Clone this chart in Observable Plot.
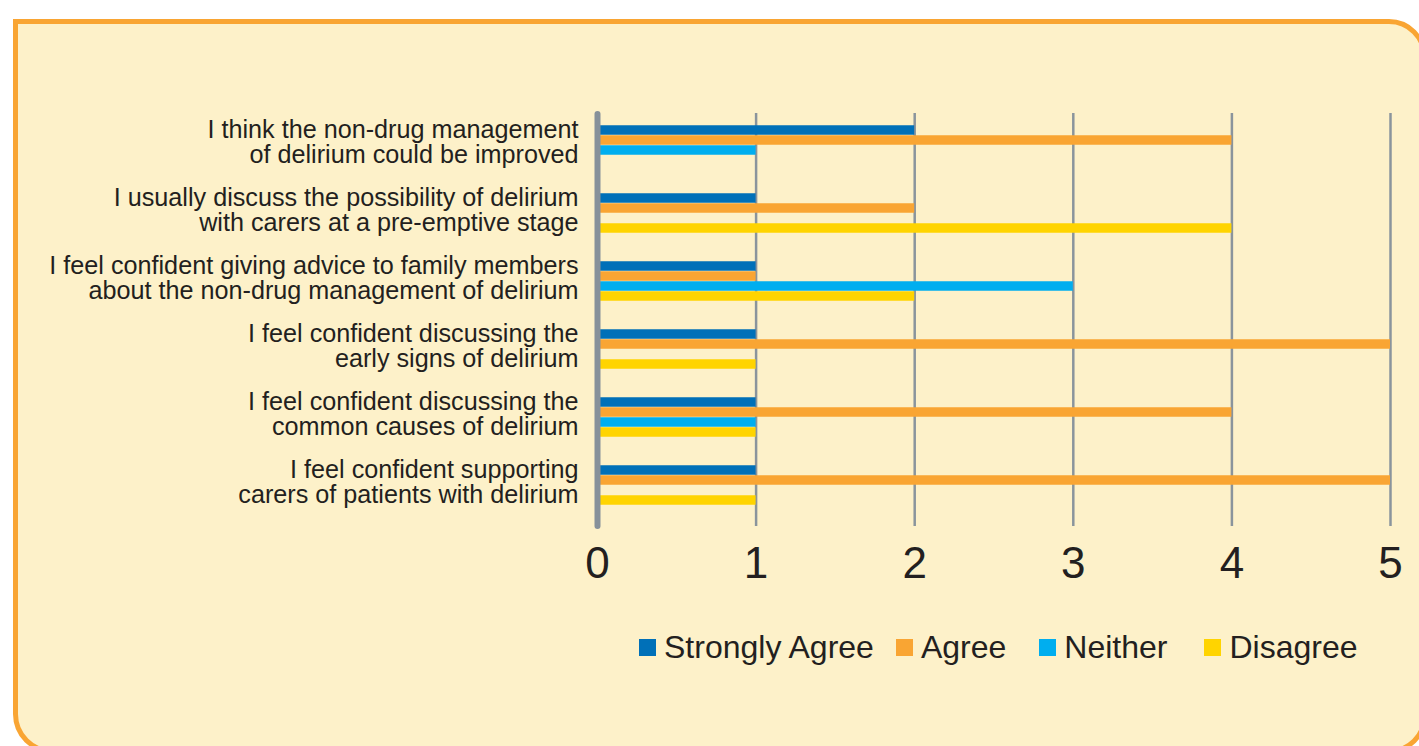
<!DOCTYPE html>
<html>
<head>
<meta charset="utf-8">
<script src="https://cdn.jsdelivr.net/npm/d3@7"></script>
<script src="https://cdn.jsdelivr.net/npm/@observablehq/plot@0.6"></script>
<style>
  html, body { margin: 0; padding: 0; background: #ffffff; width: 1419px; height: 746px; overflow: hidden; }
  #box { position: absolute; left: 13px; top: 19px; width: 1414px; height: 735px; box-sizing: border-box;
         background: #fdf1c9; border: 5px solid #f9a533; border-radius: 0 38px 38px 40px; }
  #chart { position: absolute; left: 0; top: 0; }
  #legend { position: absolute; left: 639px; top: 630px; display: flex; align-items: center;
            font-family: "Liberation Sans", Arial, sans-serif; font-size: 32px; color: #231f20; line-height: 34px; }
  .item { display: flex; align-items: center; }
  .sw { width: 17px; height: 17px; margin-right: 8px; }
</style>
</head>
<body>
<div id="box"></div>
<div id="chart"></div>
<div id="legend"></div>
<script>
const categories = [
  "I think the non-drug management\nof delirium could be improved",
  "I usually discuss the possibility of delirium\nwith carers at a pre-emptive stage",
  "I feel confident giving advice to family members\nabout the non-drug management of delirium",
  "I feel confident discussing the\nearly signs of delirium",
  "I feel confident discussing the\ncommon causes of delirium",
  "I feel confident supporting\ncarers of patients with delirium"
];
const seriesNames = ["Strongly Agree", "Agree", "Neither", "Disagree"];
const stronglyAgree = [2, 1, 1, 1, 1, 1];
const agree         = [4, 2, 1, 5, 4, 5];
const neither       = [1, 0, 3, 0, 1, 0];
const disagree      = [0, 4, 2, 1, 1, 1];
const xTicks = [0, 1, 2, 3, 4, 5];
const colors = ["#0070b8", "#f9a533", "#00aeef", "#ffd400"];

const seriesValues = [stronglyAgree, agree, neither, disagree];
const rows = [];
seriesNames.forEach((s, i) => categories.forEach((c, j) => rows.push({series: s, category: c, value: seriesValues[i][j]})));

const W = 1419, H = 600, mT = 109, mB = 80, mL = 597, mR = 29;
const step = (H - mT - mB) / categories.length;
const barH = 10;
const groupPad = (step - barH * seriesNames.length) / 2;

const barMarks = seriesNames.map((s, i) => Plot.barX(rows.filter(r => r.series === s && r.value > 0), {
  x: "value", y: "category", fill: colors[i],
  insetTop: groupPad + barH * i,
  insetBottom: step - groupPad - barH * (i + 1)
}));

const chart = Plot.plot({
  width: W, height: H,
  marginLeft: mL, marginRight: mR, marginTop: mT, marginBottom: mB,
  style: { background: "transparent", fontFamily: "'Liberation Sans', Arial, sans-serif", color: "#231f20" },
  x: { domain: [0, 5], axis: null },
  y: { domain: categories, axis: null, padding: 0 },
  marks: [
    Plot.ruleX(xTicks.filter(d => d > 0), { stroke: "#8a949c", strokeWidth: 2.5, insetTop: 4, insetBottom: -6 }),
    ...barMarks,
    Plot.ruleX([0], { stroke: "#87919a", strokeWidth: 6, strokeLinecap: "round", insetTop: 5, insetBottom: -6 }),
    Plot.axisX(xTicks, { tickSize: 0, tickPadding: 26, fontSize: 44, fill: "#231f20", tickFormat: d => String(d), label: null }),
    Plot.axisY({ tickSize: 0, tickPadding: 19, fontSize: 25.2, lineHeight: 1.0, dy: -3, fill: "#231f20", textAnchor: "end", label: null })
  ]
});
document.getElementById("chart").appendChild(chart);

const legend = document.getElementById("legend");
const gaps = [22, 33, 37, 0];
seriesNames.forEach((s, i) => {
  const it = document.createElement("div");
  it.className = "item";
  it.style.marginRight = gaps[i] + "px";
  const sw = document.createElement("div");
  sw.className = "sw";
  sw.style.background = colors[i];
  const t = document.createElement("span");
  t.textContent = s;
  it.appendChild(sw); it.appendChild(t);
  legend.appendChild(it);
});
</script>
</body>
</html>
